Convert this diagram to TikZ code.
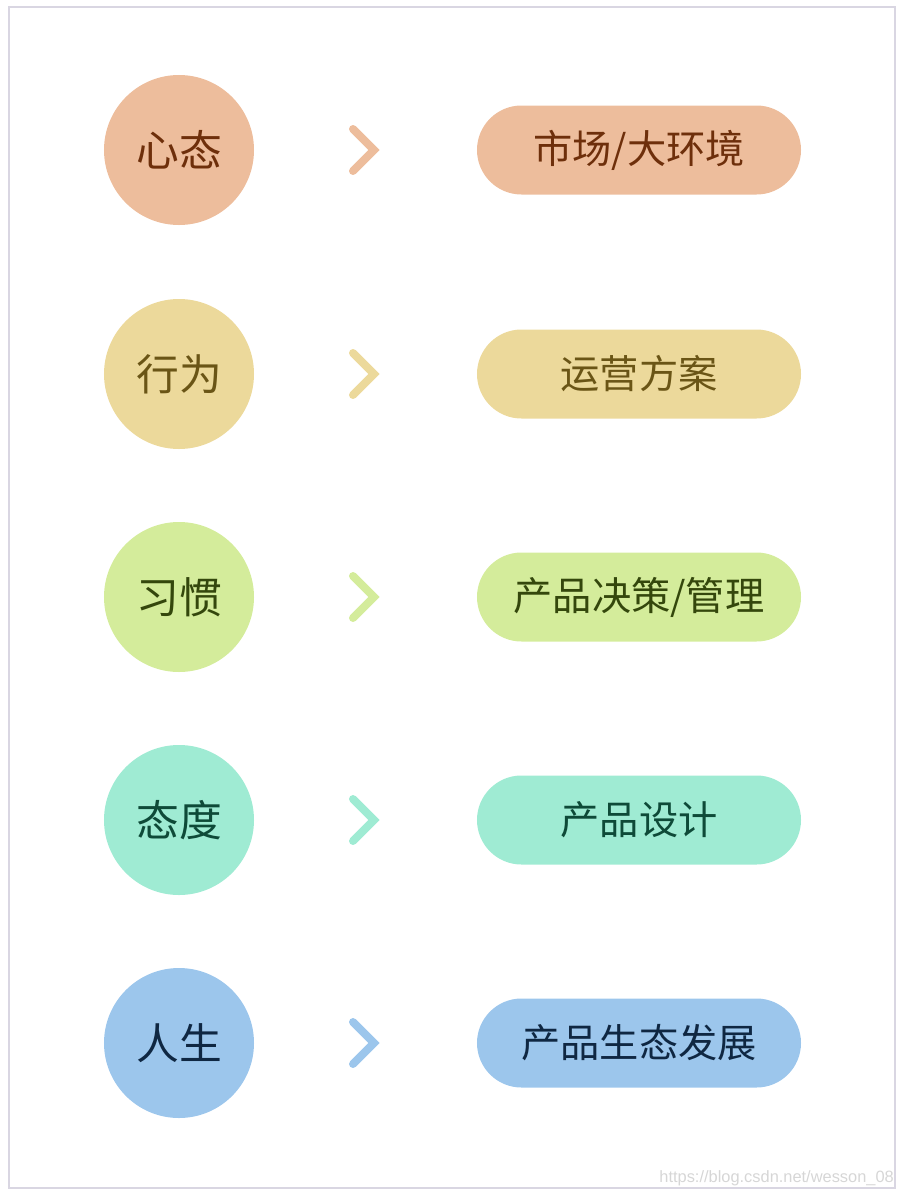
\documentclass[tikz,border=0pt]{standalone}
\usepackage{fontspec}
\setmainfont{Noto Sans CJK SC}
\newfontfamily\wmfont{Liberation Sans}
\usetikzlibrary{positioning}

\definecolor{peach}{HTML}{EDBD9C}
\definecolor{peachtxt}{HTML}{6E2F0B}
\definecolor{sand}{HTML}{ECD99B}
\definecolor{sandtxt}{HTML}{6A5516}
\definecolor{lime}{HTML}{D4EC9B}
\definecolor{limetxt}{HTML}{34470C}
\definecolor{mint}{HTML}{9FEBD3}
\definecolor{minttxt}{HTML}{0E4A38}
\definecolor{sky}{HTML}{9CC6EC}
\definecolor{skytxt}{HTML}{0F2742}
\definecolor{frame}{HTML}{D9D6E2}

\begin{document}
\begin{tikzpicture}[x=0.03cm, y=-0.03cm,
    bubble/.style={circle, minimum size=4.5cm, inner sep=0pt, font=\fontsize{36.5}{42}\selectfont},
    pill/.style={rounded corners=1.335cm, minimum width=9.72cm, minimum height=2.67cm, inner sep=0pt, font=\fontsize{33.5}{40}\selectfont},
    chev/.style={line width=6.8pt, line cap=round, line join=miter}]
    \useasboundingbox (0,0) rectangle (905,1200);
    \draw[frame, line width=1.2pt] (9,7) rectangle (895,1188);

    % row 1
    \node[bubble, fill=peach, text=peachtxt] (xintai) at (179,150) {心态};
    \node[pill, fill=peach, text=peachtxt] (shichang) at (639,150) {市场/大环境};
    \coordinate (a1) at (364,150);
    \draw[chev, peach] ([shift={(-11,-21)}]a1) -- ([shift={(10,0)}]a1) -- ([shift={(-11,21)}]a1);

    % row 2
    \node[bubble, fill=sand, text=sandtxt] (xingwei) at (179,374) {行为};
    \node[pill, fill=sand, text=sandtxt] (yunying) at (639,374) {运营方案};
    \coordinate (a2) at (364,374);
    \draw[chev, sand] ([shift={(-11,-21)}]a2) -- ([shift={(10,0)}]a2) -- ([shift={(-11,21)}]a2);

    % row 3
    \node[bubble, fill=lime, text=limetxt] (xiguan) at (179,597) {习惯};
    \node[pill, fill=lime, text=limetxt] (juece) at (639,597) {产品决策/管理};
    \coordinate (a3) at (364,597);
    \draw[chev, lime] ([shift={(-11,-21)}]a3) -- ([shift={(10,0)}]a3) -- ([shift={(-11,21)}]a3);

    % row 4
    \node[bubble, fill=mint, text=minttxt] (taidu) at (179,820) {态度};
    \node[pill, fill=mint, text=minttxt] (sheji) at (639,820) {产品设计};
    \coordinate (a4) at (364,820);
    \draw[chev, mint] ([shift={(-11,-21)}]a4) -- ([shift={(10,0)}]a4) -- ([shift={(-11,21)}]a4);

    % row 5
    \node[bubble, fill=sky, text=skytxt] (rensheng) at (179,1043) {人生};
    \node[pill, fill=sky, text=skytxt] (shengtai) at (639,1043) {产品生态发展};
    \coordinate (a5) at (364,1043);
    \draw[chev, sky] ([shift={(-11,-21)}]a5) -- ([shift={(10,0)}]a5) -- ([shift={(-11,21)}]a5);

    % watermark
    \node[anchor=south east, inner sep=0pt, text=black!16, font=\wmfont\fontsize{14}{16}\selectfont] (wm) at (894,1186.5) {https://blog.csdn.net/wesson\_08};
\end{tikzpicture}
\end{document}
